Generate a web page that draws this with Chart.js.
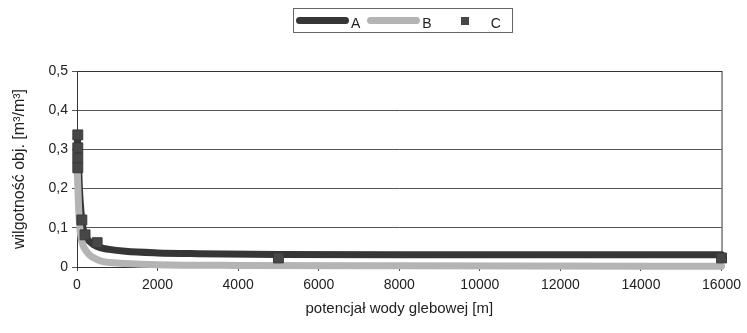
<!DOCTYPE html>
<html>
<head>
<meta charset="utf-8">
<script src="https://cdn.jsdelivr.net/npm/chart.js@4/dist/chart.umd.min.js"></script>
<style>
  body { margin: 0; background: #fff; font-family: "Liberation Sans", Arial, sans-serif; }
  #wrap { position: relative; width: 747px; height: 333px; }
  #legend {
    position: absolute; left: 293px; top: 8px; width: 217px; height: 23px;
    border: 1px solid #666; display: flex; align-items: center;
    font-size: 14px; color: #222; padding-left: 1px; box-sizing: content-box;
  }
  #legend .txt { line-height: 14px; }
</style>
</head>
<body>
<div id="wrap">
  <canvas id="chart" width="747" height="333"></canvas>
  <div id="legend"></div>
</div>
<script>
// series A (model curve)
var aX = [0, 25, 60, 100, 130, 170, 220, 300, 500, 800, 1200, 2000, 3000, 5000, 8000, 16000];
var aY = [0.34, 0.30, 0.20, 0.14, 0.11, 0.09, 0.077, 0.066, 0.052, 0.045, 0.040, 0.036, 0.034, 0.032, 0.031, 0.031];
// series B
var bX = [0, 15, 40, 70, 100, 150, 200, 300, 400, 600, 1000, 2000, 4000, 8000, 16000];
var bY = [0.27, 0.22, 0.15, 0.10, 0.075, 0.055, 0.045, 0.032, 0.024, 0.015, 0.010, 0.006, 0.004, 0.003, 0.002];
// series C (measured points)
var cX = [20, 20, 20, 20, 120, 200, 500, 5000, 16000];
var cY = [0.337, 0.304, 0.278, 0.253, 0.12, 0.082, 0.062, 0.023, 0.023];

var names = ["A", "B", "C"];
var xTitle = "potencjał wody glebowej [m]";
var yTitle = "wilgotność obj. [m³/m³]";

function pts(xs, ys) {
    return xs.map(function (x, i) { return { x: x, y: ys[i] }; });
}

var frame = {
    id: "frame",
    beforeDatasetsDraw: function (chart) {
        var a = chart.chartArea, ctx = chart.ctx;
        ctx.save();
        ctx.strokeStyle = "#333";
        ctx.lineWidth = 1;
        ctx.strokeRect(a.left + 0.5, a.top + 0.5, a.right - a.left, a.bottom - a.top);
        ctx.restore();
    }
};

var config = {
    type: "scatter",
    data: {
        datasets: [
            {
                label: names[0], data: pts(aX, aY), showLine: true, order: 2,
                borderColor: "#363636", borderWidth: 7, pointRadius: 0,
                cubicInterpolationMode: "monotone", borderCapStyle: "round", clip: false
            },
            {
                label: names[1], data: pts(bX, bY), showLine: true, order: 1,
                borderColor: "#b4b4b4", borderWidth: 7, pointRadius: 0,
                cubicInterpolationMode: "monotone", borderCapStyle: "round", clip: false
            },
            {
                label: names[2], data: pts(cX, cY), showLine: false, order: 0,
                pointStyle: "rect", pointRadius: 7, backgroundColor: "#474747",
                borderColor: "#3a3a3a", borderWidth: 1, clip: false
            }
        ]
    },
    options: {
        responsive: false,
        animation: false,
        layout: { padding: { left: 0, top: 71, right: 23, bottom: 0 } },
        plugins: { legend: { display: false }, tooltip: { enabled: false } },
        scales: {
            x: {
                type: "linear", min: 0, max: 16000,
                afterFit: function (s) { s.height = 66; },
                ticks: { stepSize: 2000, color: "#222", padding: 6, maxRotation: 0,
                         font: { family: "Liberation Sans", size: 14 },
                         callback: function (v) { return String(v); } },
                grid: { drawOnChartArea: false, tickLength: 4, color: "#444" },
                border: { color: "#333" },
                title: { display: true, text: xTitle, color: "#222",
                         font: { family: "Liberation Sans", size: 15 }, padding: { top: 0, bottom: 15 } }
            },
            y: {
                min: 0, max: 0.5,
                afterFit: function (s) { s.width = 77; },
                ticks: {
                    stepSize: 0.1, color: "#222", padding: 4,
                    font: { family: "Liberation Sans", size: 14 },
                    callback: function (v) { return v === 0 ? "0" : v.toFixed(1).replace(".", ","); }
                },
                grid: { color: "#555", tickLength: 5 },
                border: { color: "#333" },
                title: { display: true, text: yTitle, color: "#222",
                         font: { family: "Liberation Sans", size: 16 }, padding: { top: 10, bottom: 0 } }
            }
        }
    },
    plugins: [frame]
};

var myChart = new Chart(document.getElementById("chart").getContext("2d"), config);

// legend built from the datasets
var legend = document.getElementById("legend");
var gaps = [1, 7, 29];
myChart.data.datasets.forEach(function (ds, i) {
    var sample = document.createElement("span");
    sample.style.display = "inline-block";
    sample.style.marginLeft = gaps[i] + "px";
    if (ds.showLine) {
        sample.style.width = "53px";
        sample.style.height = "7px";
        sample.style.borderRadius = "4px";
        sample.style.background = ds.borderColor;
    } else {
        sample.style.width = "8px";
        sample.style.height = "8px";
        sample.style.background = ds.backgroundColor;
    }
    var txt = document.createElement("span");
    txt.className = "txt";
    txt.textContent = ds.label;
    txt.style.marginLeft = (ds.showLine ? 2 : 22) + "px";
    txt.style.marginTop = "4px";
    legend.appendChild(sample);
    legend.appendChild(txt);
});
</script>
</body>
</html>
